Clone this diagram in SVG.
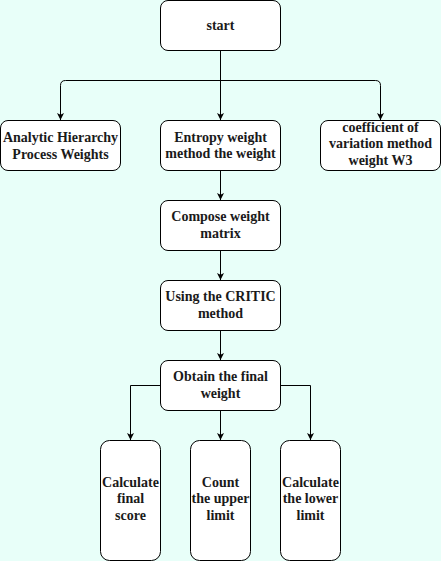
<svg xmlns="http://www.w3.org/2000/svg" width="441" height="561" viewBox="0 0 441 561">
<style>
.box{fill:#ffffff;stroke:#000000;stroke-width:1}
.lbl{font-family:"Liberation Serif","Times New Roman",serif;font-weight:bold;font-size:14px;fill:#1a1a1a;text-anchor:middle}
.edge{fill:none;stroke:#000000;stroke-width:1}
</style>
<defs>
<marker id="arr" markerUnits="userSpaceOnUse" markerWidth="8" markerHeight="8" refX="7" refY="3.5" orient="auto">
<path d="M0,0 L7,3.5 L0,7 L1.75,3.5 Z" fill="#000000"/>
</marker>
</defs>
<rect x="0" y="0" width="441" height="561" fill="#e8fff9"/>
<g id="connectors">
<path class="edge" d="M220.5,50.5 V120" marker-end="url(#arr)"/>
<path class="edge" d="M220.5,80.5 H65.5 Q60.5,80.5 60.5,85.5 V120" marker-end="url(#arr)"/>
<path class="edge" d="M220.5,80.5 H375.5 Q380.5,80.5 380.5,85.5 V120" marker-end="url(#arr)"/>
<path class="edge" d="M220.5,170.5 V200" marker-end="url(#arr)"/>
<path class="edge" d="M220.5,250.5 V280" marker-end="url(#arr)"/>
<path class="edge" d="M220.5,330.5 V360" marker-end="url(#arr)"/>
<path class="edge" d="M160.5,385.5 H130.5 V440" marker-end="url(#arr)"/>
<path class="edge" d="M220.5,410.5 V440" marker-end="url(#arr)"/>
<path class="edge" d="M280.5,385.5 H310.5 V440" marker-end="url(#arr)"/>
</g>
<g id="start">
<rect class="box" x="160.5" y="0.5" width="120" height="50" rx="7.5"/>
<text class="lbl" x="220.5" y="29.5">start</text>
</g>
<g id="ahp">
<rect class="box" x="0.5" y="120.5" width="120" height="50" rx="7.5"/>
<text class="lbl" x="60.5" y="142">Analytic Hierarchy</text>
<text class="lbl" x="60.5" y="158.5">Process Weights</text>
</g>
<g id="entropy">
<rect class="box" x="160.5" y="120.5" width="120" height="50" rx="7.5"/>
<text class="lbl" x="220.5" y="141.5">Entropy weight</text>
<text class="lbl" x="220.5" y="158">method the weight</text>
</g>
<g id="cv">
<rect class="box" x="320.5" y="120.5" width="120" height="50" rx="7.5"/>
<text class="lbl" x="380.5" y="131.5">coefficient of</text>
<text class="lbl" x="380.5" y="148">variation method</text>
<text class="lbl" x="380.5" y="164.5">weight W3</text>
</g>
<g id="compose">
<rect class="box" x="160.5" y="200.5" width="120" height="50" rx="7.5"/>
<text class="lbl" x="220.5" y="221">Compose weight</text>
<text class="lbl" x="220.5" y="237.5">matrix</text>
</g>
<g id="critic">
<rect class="box" x="160.5" y="280.5" width="120" height="50" rx="7.5"/>
<text class="lbl" x="220.5" y="301">Using the CRITIC</text>
<text class="lbl" x="220.5" y="317.5">method</text>
</g>
<g id="obtain">
<rect class="box" x="160.5" y="360.5" width="120" height="50" rx="7.5"/>
<text class="lbl" x="220.5" y="381">Obtain the final</text>
<text class="lbl" x="220.5" y="397.5">weight</text>
</g>
<g id="score">
<rect class="box" x="100.5" y="440.5" width="60" height="120" rx="9"/>
<text class="lbl" x="130.5" y="486.5">Calculate</text>
<text class="lbl" x="130.5" y="503">final</text>
<text class="lbl" x="130.5" y="519.5">score</text>
</g>
<g id="upper">
<rect class="box" x="190.5" y="440.5" width="60" height="120" rx="9"/>
<text class="lbl" x="220.5" y="486.5">Count</text>
<text class="lbl" x="220.5" y="503">the upper</text>
<text class="lbl" x="220.5" y="519.5">limit</text>
</g>
<g id="lower">
<rect class="box" x="280.5" y="440.5" width="60" height="120" rx="9"/>
<text class="lbl" x="310.5" y="486.5">Calculate</text>
<text class="lbl" x="310.5" y="503">the lower</text>
<text class="lbl" x="310.5" y="519.5">limit</text>
</g>
</svg>
